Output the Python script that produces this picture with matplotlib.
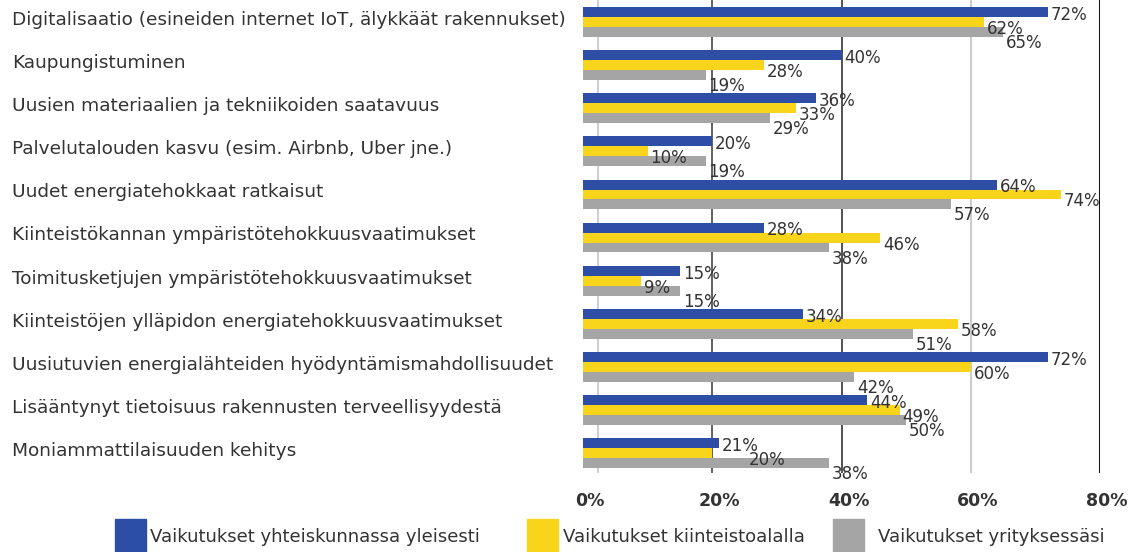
import numpy as np
import matplotlib
matplotlib.use("Agg")
import matplotlib.pyplot as plt
import matplotlib.transforms as mtransforms
from matplotlib.patches import Rectangle

categories = [
    "Digitalisaatio (esineiden internet IoT, älykkäät rakennukset)",
    "Kaupungistuminen",
    "Uusien materiaalien ja tekniikoiden saatavuus",
    "Palvelutalouden kasvu (esim. Airbnb, Uber jne.)",
    "Uudet energiatehokkaat ratkaisut",
    "Kiinteistökannan ympäristötehokkuusvaatimukset",
    "Toimitusketjujen ympäristötehokkuusvaatimukset",
    "Kiinteistöjen ylläpidon energiatehokkuusvaatimukset",
    "Uusiutuvien energialähteiden hyödyntämismahdollisuudet",
    "Lisääntynyt tietoisuus rakennusten terveellisyydestä",
    "Moniammattilaisuuden kehitys",
]
yhteiskunta = [72, 40, 36, 20, 64, 28, 15, 34, 72, 44, 21]
kiinteisto = [62, 28, 33, 10, 74, 46, 9, 58, 60, 49, 20]
yritys = [65, 19, 29, 19, 57, 38, 15, 51, 42, 50, 38]
series_names = ["Vaikutukset yhteiskunnassa yleisesti",
                "Vaikutukset kiinteistoalalla",
                "Vaikutukset yrityksessäsi"]
xticks = [0, 20, 40, 60, 80]
xtick_labels = ["0%", "20%", "40%", "60%", "80%"]

blue = "#2e4ea6"
yellow = "#f8d41a"
grey = "#a5a5a5"
txt = "#333333"
plt.rcParams['font.family'] = ['DejaVu Sans']

W, H = 1146, 552
fig = plt.figure(figsize=(W / 100, H / 100), dpi=100)
ax = fig.add_axes([583 / W, 1 - 473 / H, (1100 - 583) / W, 473 / H])

y = np.arange(len(categories))
h = 0.23
ax.barh(y - h, yhteiskunta, height=h, color=blue, zorder=2)
ax.barh(y, kiinteisto, height=h, color=yellow, zorder=2)
ax.barh(y + h, yritys, height=h, color=grey, zorder=2)

ax.set_xlim(0, 80)
ax.set_ylim(10.46, -0.51)

# vertical lines
ax.axvline(2.3, color="#cfcfcf", lw=1.5, zorder=1)
ax.axvline(20, color="#555555", lw=1.3, zorder=1)
ax.axvline(40, color="#444444", lw=1.3, zorder=1)
ax.axvline(60, color="#cccccc", lw=1.5, zorder=1)
ax.axvline(80, color="#111111", lw=2.2, zorder=1)

for s in ax.spines.values():
    s.set_visible(False)
ax.set_yticks([])
ax.set_xticks(xticks)
ax.set_xticklabels(xtick_labels, fontsize=12.5, color=txt, fontweight="bold")
ax.tick_params(axis="x", length=0, pad=14)
off = mtransforms.ScaledTranslation(5 / 72, 0, fig.dpi_scale_trans)
for lab in ax.get_xticklabels():
    lab.set_transform(lab.get_transform() + off)

# category labels at the left edge of the figure
tr = mtransforms.blended_transform_factory(fig.transFigure, ax.transData)
for i, c in enumerate(categories):
    ax.text(12 / W, i - 0.05, c, transform=tr, ha="left", va="center",
            fontsize=13.3, color=txt)

# value labels
for vals, dy in [(yhteiskunta, -h), (kiinteisto, 0), (yritys, h)]:
    shift = {-h: -2, 0: -5, h: -8}[dy]
    for i, v in enumerate(vals):
        dx = 2
        # yellow label pushed right when it would sit on the blue one
        if dy == 0 and 0 <= yhteiskunta[i] - v <= 2:
            dx = 26
        ax.annotate(f"{v}%", xy=(v, i + dy), xytext=(dx, shift),
                    textcoords="offset points", ha="left", va="center",
                    fontsize=12, color=txt, zorder=3)

# legend
legend_pos = [(115, 150), (527, 563), (833, 878)]
for (px, tx), col, name in zip(legend_pos, [blue, yellow, grey], series_names):
    fig.patches.append(Rectangle((px / W, 1 - 552 / H), 31 / W, 33 / H,
                                 transform=fig.transFigure, color=col))
    fig.text(tx / W, 1 - 537 / H, name, ha="left", va="center",
             fontsize=13, color=txt)

fig.savefig("out.png", dpi=100)
